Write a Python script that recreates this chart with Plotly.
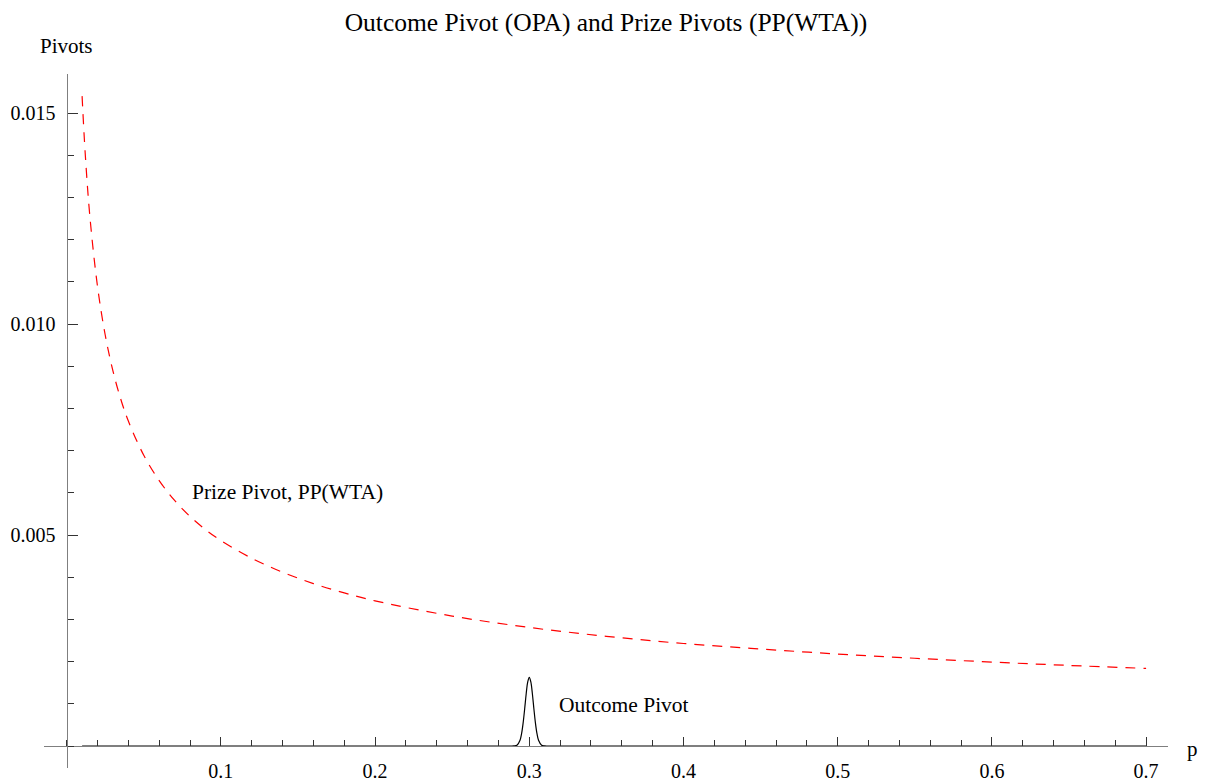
import plotly.graph_objects as go

# ---- data ----
p_prize = [0.01, 0.012, 0.015, 0.02, 0.025, 0.03, 0.035, 0.04, 0.05, 0.06, 0.07, 0.08, 0.09,
           0.10, 0.12, 0.14, 0.16, 0.18, 0.20, 0.25, 0.30, 0.35, 0.40, 0.45, 0.50, 0.55,
           0.60, 0.65, 0.70]
pp_wta = [0.0154, 0.01406, 0.01257, 0.01089, 0.00974, 0.00889, 0.00823, 0.00770, 0.00689,
          0.00629, 0.00582, 0.00544, 0.00513, 0.00487, 0.00445, 0.00412, 0.00385, 0.00363,
          0.00344, 0.00308, 0.00281, 0.00260, 0.00243, 0.00230, 0.00218, 0.00208, 0.00199,
          0.00191, 0.00184]

p_outcome = [0.01, 0.28, 0.29, 0.292, 0.294, 0.295, 0.296, 0.297, 0.298, 0.299, 0.300,
             0.301, 0.302, 0.303, 0.304, 0.305, 0.306, 0.308, 0.31, 0.32, 0.70]
opa = [0.0, 0.0, 0.000002, 0.00002, 0.000138, 0.000293, 0.000544, 0.000878, 0.00124,
       0.00152, 0.001628, 0.00152, 0.00124, 0.000878, 0.000544, 0.000293, 0.000138,
       0.00002, 0.000002, 0.0, 0.0]

x_major = [0.1, 0.2, 0.3, 0.4, 0.5, 0.6, 0.7]
x_major_text = ["0.1", "0.2", "0.3", "0.4", "0.5", "0.6", "0.7"]
y_major = [0.005, 0.010, 0.015]
y_major_text = ["0.005", "0.010", "0.015"]

title_text = "Outcome Pivot (OPA) and Prize Pivots (PP(WTA))"
x_label = "p"
y_label = "Pivots"
prize_label = "Prize Pivot, PP(WTA)"
outcome_label = "Outcome Pivot"

# ---- layout ----
X_RANGE = [-0.0147, 0.7142]
Y_RANGE = [-0.00052, 0.015924]
FONT = "Liberation Serif, Times New Roman, serif"
AXIS_COLOR = "#7f7f7f"

fig = go.Figure()
fig.add_trace(go.Scatter(x=p_outcome, y=opa, mode="lines",
                         line=dict(color="black", width=1.2, shape="spline"),
                         showlegend=False, hoverinfo="skip"))
fig.add_trace(go.Scatter(x=p_prize, y=pp_wta, mode="lines",
                         line=dict(color="#ff0000", width=1.2, dash="10px,8px", shape="spline"),
                         showlegend=False, hoverinfo="skip"))

x_pos = (0 - Y_RANGE[0]) / (Y_RANGE[1] - Y_RANGE[0])
y_pos = (0 - X_RANGE[0]) / (X_RANGE[1] - X_RANGE[0])

fig.update_layout(
    width=1217, height=783,
    margin=dict(l=36, r=57, t=66, b=23, autoexpand=False),
    paper_bgcolor="white", plot_bgcolor="white",
    font=dict(family=FONT, size=20, color="black"),
    title=dict(text=title_text, x=0.5, xref="paper", xanchor="center",
               y=1 - 14 / 783, yref="container", yanchor="middle", automargin=False,
               font=dict(family=FONT, size=25.5, color="black")),
    xaxis=dict(range=X_RANGE, anchor="free", position=x_pos, showgrid=False, zeroline=False,
               automargin=False,
               showline=True, linecolor=AXIS_COLOR, linewidth=1.2,
               ticks="inside", ticklen=9, tickwidth=1, tickcolor="#333",
               tickvals=x_major, ticktext=x_major_text,
               minor=dict(dtick=0.02, tick0=0, ticks="inside", ticklen=6, tickwidth=1,
                          tickcolor="#333", showgrid=False),
               tickfont=dict(family=FONT, size=20, color="black"), ticklabelstandoff=7),
    yaxis=dict(range=Y_RANGE, anchor="free", position=y_pos, showgrid=False, zeroline=False,
               automargin=False,
               showline=True, linecolor=AXIS_COLOR, linewidth=1.2,
               ticks="inside", ticklen=10, tickwidth=1, tickcolor="#333",
               tickvals=y_major, ticktext=y_major_text,
               minor=dict(dtick=0.001, tick0=0, ticks="inside", ticklen=6, tickwidth=1,
                          tickcolor="#333", showgrid=False),
               tickfont=dict(family=FONT, size=20, color="black"), ticklabelstandoff=7),
)

fig.add_annotation(text=y_label, xref="x", x=0, yref="paper", y=1, xanchor="center",
                   yanchor="bottom", yshift=14, showarrow=False,
                   font=dict(family=FONT, size=21, color="black"))
fig.add_annotation(text=x_label, xref="paper", x=1, yref="y", y=0, xanchor="left",
                   yanchor="middle", xshift=17, yshift=-3, showarrow=False,
                   font=dict(family=FONT, size=21, color="black"))
fig.add_annotation(text=prize_label, xref="x", x=0.08, yref="y", y=0.00602, xanchor="left",
                   yanchor="middle", showarrow=False,
                   font=dict(family=FONT, size=21.5, color="black"))
fig.add_annotation(text=outcome_label, xref="x", x=0.318, yref="y", y=0.00097, xanchor="left",
                   yanchor="middle", showarrow=False,
                   font=dict(family=FONT, size=21.5, color="black"))

fig.write_html("out.html")
